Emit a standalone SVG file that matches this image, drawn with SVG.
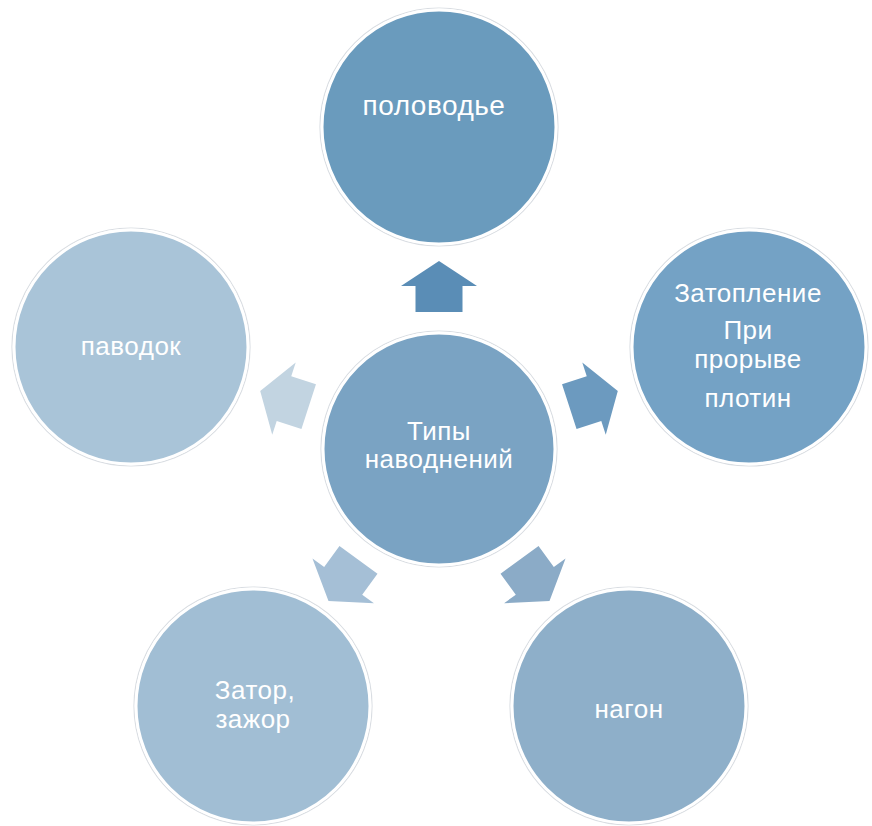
<svg xmlns="http://www.w3.org/2000/svg" width="872" height="826" viewBox="0 0 872 826">
  <defs>
    <path id="arr" d="M0,-188 L38,-163 L23.5,-163 L23.5,-137 L-23.5,-137 L-23.5,-163 L-38,-163 Z"/>
  </defs>
  <style>
    .ring { fill: none; stroke: #d9dde2; stroke-width: 1.2; }
    .c { stroke: #ffffff; stroke-width: 3; }
    .t { fill: #ffffff; font-family: "Liberation Sans", Arial, sans-serif; font-size: 26px; letter-spacing: 0.5px; text-anchor: middle; }
    .big { font-size: 28px; }
  </style>
  <rect width="872" height="826" fill="#ffffff"/>
  <g id="connectors">
    <use href="#arr" transform="translate(439,449)" fill="#5a8db6"/>
    <use href="#arr" transform="translate(439,449) rotate(72)" fill="#6c9abf"/>
    <use href="#arr" transform="translate(439,449) rotate(144)" fill="#8babc7"/>
    <use href="#arr" transform="translate(439,449) rotate(216)" fill="#a5bfd6"/>
    <use href="#arr" transform="translate(439,449) rotate(288)" fill="#c2d4e1"/>
  </g>
  <g id="node-top">
    <circle cx="439" cy="127" r="119" class="ring"/>
    <circle cx="439" cy="127" r="117" class="c" fill="#6a9bbd"/>
    <text x="434" y="115" class="t big">половодье</text>
  </g>
  <g id="node-right">
    <circle cx="749" cy="347" r="119" class="ring"/>
    <circle cx="749" cy="347" r="117" class="c" fill="#74a2c5"/>
    <text x="748" y="302" class="t">Затопление</text>
    <text x="748" y="339" class="t">При</text>
    <text x="748" y="368" class="t">прорыве</text>
    <text x="748" y="407" class="t">плотин</text>
  </g>
  <g id="node-bottom-right">
    <circle cx="629" cy="706" r="119" class="ring"/>
    <circle cx="629" cy="706" r="117" class="c" fill="#8eafc9"/>
    <text x="629" y="718" class="t">нагон</text>
  </g>
  <g id="node-bottom-left">
    <circle cx="253" cy="706" r="119" class="ring"/>
    <circle cx="253" cy="706" r="117" class="c" fill="#a1bed4"/>
    <text x="255" y="699" class="t">Затор,</text>
    <text x="253" y="728" class="t">зажор</text>
  </g>
  <g id="node-left">
    <circle cx="131" cy="347" r="119" class="ring"/>
    <circle cx="131" cy="347" r="117" class="c" fill="#a9c4d8"/>
    <text x="131" y="355" class="t">паводок</text>
  </g>
  <g id="node-center">
    <circle cx="439" cy="449" r="118" class="ring"/>
    <circle cx="439" cy="449" r="116" class="c" fill="#7aa3c3"/>
    <text x="439" y="440" class="t">Типы</text>
    <text x="439" y="468" class="t">наводнений</text>
  </g>
</svg>
